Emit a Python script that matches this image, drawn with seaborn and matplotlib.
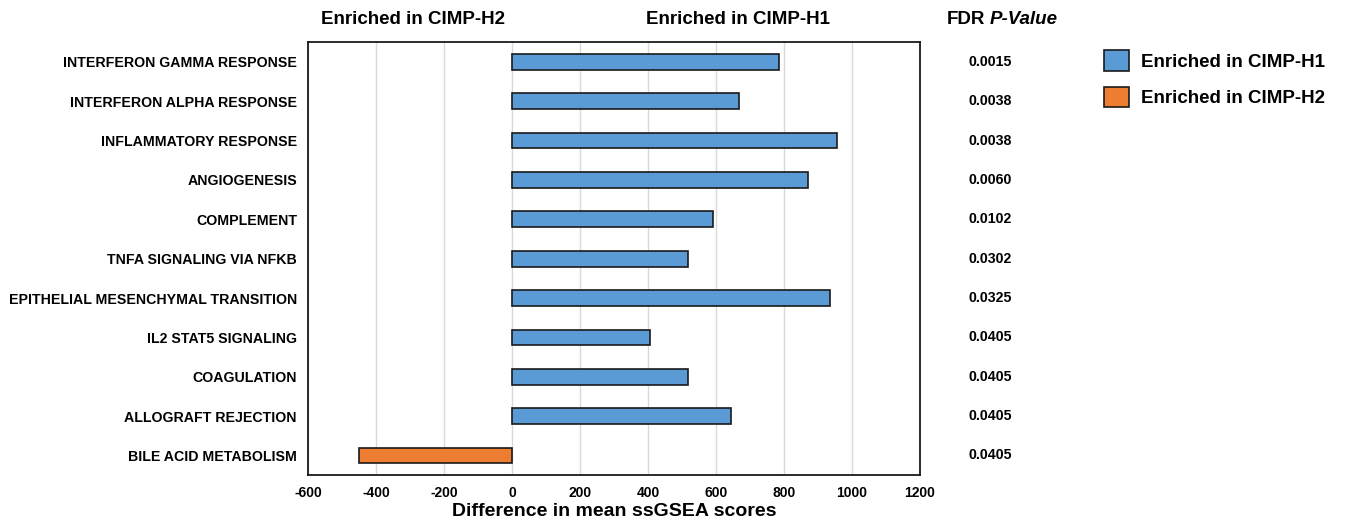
import pandas as pd
import matplotlib.pyplot as plt
import seaborn as sns

# datos
vias = ["INTERFERON GAMMA RESPONSE", "INTERFERON ALPHA RESPONSE", "INFLAMMATORY RESPONSE",
        "ANGIOGENESIS", "COMPLEMENT", "TNFA SIGNALING VIA NFKB",
        "EPITHELIAL MESENCHYMAL TRANSITION", "IL2 STAT5 SIGNALING", "COAGULATION",
        "ALLOGRAFT REJECTION", "BILE ACID METABOLISM"]
diferencia = [785, 668, 957, 871, 592, 518, 936, 407, 518, 643, -449]
fdr = ["0.0015", "0.0038", "0.0038", "0.0060", "0.0102", "0.0302",
       "0.0325", "0.0405", "0.0405", "0.0405", "0.0405"]
grupos = ["Enriched in CIMP-H1", "Enriched in CIMP-H2"]
colores = ["#5B9BD5", "#ED7D31"]
ticks_x = [-600, -400, -200, 0, 200, 400, 600, 800, 1000, 1200]

df = pd.DataFrame({"via": vias, "score": diferencia})
df["grupo"] = [grupos[0] if v > 0 else grupos[1] for v in df["score"]]

sns.set_style("white")
plt.rcParams["font.family"] = ["Liberation Sans", "DejaVu Sans"]
plt.rcParams["text.color"] = "black"
plt.rcParams["xtick.color"] = "black"
plt.rcParams["ytick.color"] = "black"
plt.rcParams["axes.labelcolor"] = "black"

fig = plt.figure(figsize=(13.45, 5.21), dpi=100)
ax = fig.add_axes([0.229, 0.088, 0.455, 0.831])

sns.barplot(data=df, x="score", y="via", hue="grupo", hue_order=grupos,
            palette=colores, saturation=1, orient="h", dodge=False, width=0.4,
            edgecolor="#1a1a1a", linewidth=1.2, ax=ax)

ax.set_xlim(-600, 1200)
ax.set_xticks(ticks_x)
ax.set_xticklabels([str(t) for t in ticks_x], fontsize=10, fontweight="bold")
ax.grid(axis="x", color="#d9d9d9", linewidth=1)
ax.set_axisbelow(True)
ax.tick_params(axis="both", length=0, pad=8)
ax.set_yticks(range(len(vias)))
ax.set_yticklabels(vias, fontsize=10.2, fontweight="bold")
ax.set_ylabel("")
ax.set_xlabel("Difference in mean ssGSEA scores", fontsize=14, fontweight="bold", labelpad=2)
for s in ax.spines.values():
    s.set_color("#1a1a1a")
    s.set_linewidth(1.3)

# titulos de arriba
ax.text(-291, -0.85, "Enriched in CIMP-H2", ha="center", va="bottom", fontsize=13.5, fontweight="bold")
ax.text(665, -0.85, "Enriched in CIMP-H1", ha="center", va="bottom", fontsize=13.5, fontweight="bold")
ax.text(1393, -0.85, "FDR", ha="right", va="bottom", fontsize=13.5, fontweight="bold")
ax.text(1406, -0.85, "P-Value", ha="left", va="bottom", fontsize=13.5, fontweight="bold", style="italic")

# columna de FDR
for i, p in enumerate(fdr):
    ax.text(1406, i, p, ha="center", va="center", fontsize=10.2, fontweight="bold")

# leyenda
leg = ax.legend(loc="upper left", bbox_to_anchor=(1.273, 1.02), frameon=False,
                prop={"size": 13.5, "weight": "bold"}, handlelength=1.35, handleheight=1.3,
                labelspacing=0.85, handletextpad=0.65)

plt.savefig("out.png", dpi=100)
